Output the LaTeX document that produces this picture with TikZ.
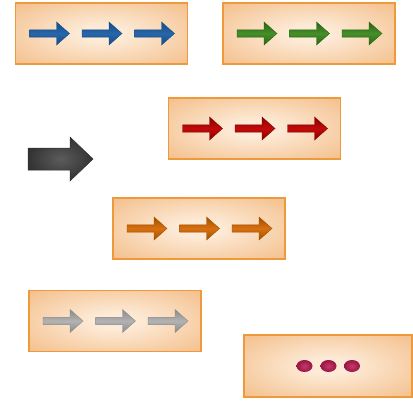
\documentclass[tikz,border=0pt]{standalone}
\usetikzlibrary{shapes.geometric}

\definecolor{boxedge}{HTML}{EE9A3C}
\definecolor{boxin}{HTML}{FDEBD8}
\definecolor{boxout}{HTML}{EFAA66}
\definecolor{blueD}{HTML}{164C86}
\definecolor{blueL}{HTML}{2666AA}
\definecolor{greenD}{HTML}{2A6412}
\definecolor{greenL}{HTML}{44902A}
\definecolor{redD}{HTML}{880000}
\definecolor{redL}{HTML}{C20A0A}
\definecolor{orangeD}{HTML}{A24E00}
\definecolor{orangeL}{HTML}{D87010}
\definecolor{grayD}{HTML}{8A8A8A}
\definecolor{grayL}{HTML}{B2B2B2}
\definecolor{dotD}{HTML}{951744}
\definecolor{dotL}{HTML}{C83868}

% soft glow that fills the whole box
\pgfdeclareradialshading{stageglow}{\pgfpoint{0bp}{0bp}}{%
  color(0bp)=(boxin); color(6bp)=(boxin); color(50bp)=(boxout); color(72bp)=(boxout)}

\tikzset{
  stage/.style={rectangle, draw=boxedge, line width=1.2pt,
    shading=stageglow,
    minimum width=172pt, minimum height=61pt, inner sep=0pt},
  dot/.style={ellipse, shading=radial, inner color=dotL, outer color=dotD,
    minimum width=16pt, minimum height=12pt, inner sep=0pt},
  pics/flowarrow/.style 2 args={code={
    \shade[top color=#1, bottom color=#1, middle color=#2, draw=#1, line width=0.4pt]
      (-20,-3.6) -- (7,-3.6) -- (7,-11.5) -- (20,0) -- (7,11.5) -- (7,3.6) -- (-20,3.6) -- cycle;
  }}
}

\begin{document}
\begin{tikzpicture}[x=1pt,y=-1pt]
\useasboundingbox (0,0) rectangle (413,400);

% the six stages
\node[stage] (b1) at (101.5,33.5) {};
\node[stage] (b2) at (309,33.5) {};
\node[stage] (b3) at (254.5,128.5) {};
\node[stage] (b4) at (199,228.5) {};
\node[stage] (b5) at (115,321) {};
\node[stage, minimum width=168pt, minimum height=62pt] (b6) at (328,366) {};

% three arrows per stage
\foreach \b/\d/\l in {b1/blueD/blueL, b2/greenD/greenL, b3/redD/redL,
                      b4/orangeD/orangeL, b5/grayD/grayL}{
  \pic at ([xshift=-52pt]\b.center) {flowarrow={\d}{\l}};
  \pic at ([xshift=0.5pt]\b.center) {flowarrow={\d}{\l}};
  \pic at ([xshift=53pt]\b.center) {flowarrow={\d}{\l}};
}

% the continuation dots
\node[dot] (d1) at ([xshift=-23.5pt]b6.center) {};
\node[dot] (d2) at ([xshift=0.5pt]b6.center) {};
\node[dot] (d3) at ([xshift=24pt]b6.center) {};

% large dark arrow
\coordinate (big) at (60.5,159);
\shade[inner color=black!64, outer color=black!80, draw=black!82, line width=0.5pt]
  (28,148) -- (70,148) -- (70,137) -- (93,159) -- (70,181) -- (70,170) -- (28,170) -- cycle;
\end{tikzpicture}
\end{document}
